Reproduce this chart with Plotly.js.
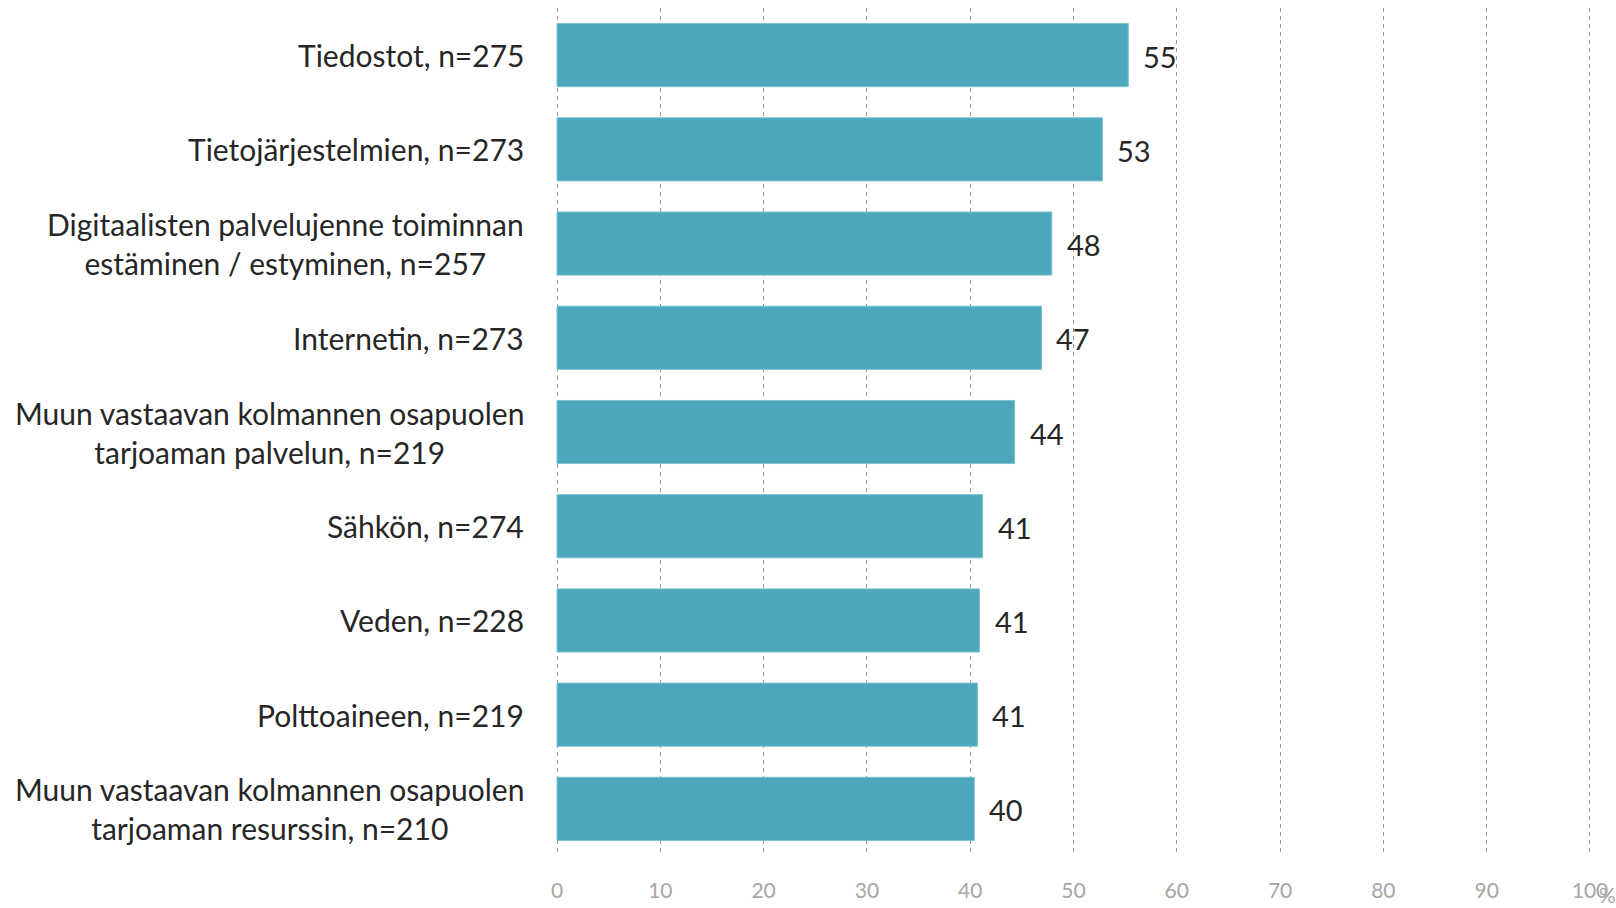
<!DOCTYPE html>
<html>
<head>
<meta charset="utf-8">
<script src="https://cdn.plot.ly/plotly-3.0.1.min.js"></script>
<style>html,body{margin:0;padding:0;background:#fff;}#chart{width:1616px;height:908px;}</style>
</head>
<body>
<div id="chart"></div>
<script>
const categories = [
  "Tiedostot, n=275",
  "Tietojärjestelmien, n=273",
  "Digitaalisten palvelujenne toiminnan<br>estäminen / estyminen, n=257",
  "Internetin, n=273",
  "Muun vastaavan kolmannen osapuolen<br>tarjoaman palvelun, n=219",
  "Sähkön, n=274",
  "Veden, n=228",
  "Polttoaineen, n=219",
  "Muun vastaavan kolmannen osapuolen<br>tarjoaman resurssin, n=210"
];
const values = [55.3, 52.8, 47.9, 46.9, 44.3, 41.2, 40.9, 40.7, 40.4];
const xTicks = [0, 10, 20, 30, 40, 50, 60, 70, 80, 90, 100];
const unitLabel = "%";

const textColor = "#262626";
const fontFam = "Lato, 'Open Sans', sans-serif";

const trace = {
  type: "bar",
  orientation: "h",
  y: categories,
  x: values,
  marker: {color: "#4ca7bc", line: {color: "#7cc0d0", width: 1}},
  hoverinfo: "skip",
  textposition: "none"
};

// value labels beside bar ends
const annotations = values.map((v, i) => ({
  x: v, y: categories[i], xref: "x", yref: "y",
  text: String(Math.round(v)),
  showarrow: false, xanchor: "left", xshift: 13, yshift: -1,
  font: {family: fontFam, size: 29, color: textColor}
}));
// category labels (centre-aligned lines, right edge near the axis)
categories.forEach((c) => {
  annotations.push({
    x: 0, y: c, xref: "paper", yref: "y",
    text: c, showarrow: false, xanchor: "right", align: "center",
    xshift: -30,
    font: {family: fontFam, size: 30, color: textColor}
  });
});
annotations.push({
  x: 1, y: 0, xref: "paper", yref: "paper",
  text: unitLabel, showarrow: false, xanchor: "center", yanchor: "middle",
  xshift: 16, yshift: -38,
  font: {family: fontFam, size: 21, color: "#a6a6a6"}
});

const layout = {
  width: 1616, height: 908,
  margin: {l: 556, r: 25, t: 8, b: 52},
  paper_bgcolor: "#fff", plot_bgcolor: "#fff",
  showlegend: false,
  bargap: 0.33,
  xaxis: {
    range: [-0.1, 100.1],
    tickvals: xTicks,
    ticktext: xTicks.map(String),
    showgrid: true, gridcolor: "#9a9a9a", gridwidth: 1, griddash: "4px,4px",
    zeroline: false, showline: false, ticks: "",
    ticklabelstandoff: 20,
    tickfont: {family: fontFam, size: 21, color: "#a6a6a6"},
    fixedrange: true
  },
  yaxis: {
    autorange: "reversed",
    showgrid: false, zeroline: false, showline: false, ticks: "",
    showticklabels: false,
    fixedrange: true
  },
  annotations: annotations,
  font: {family: fontFam, color: textColor}
};

Plotly.newPlot("chart", [trace], layout, {displayModeBar: false, staticPlot: true});
</script>
</body>
</html>
